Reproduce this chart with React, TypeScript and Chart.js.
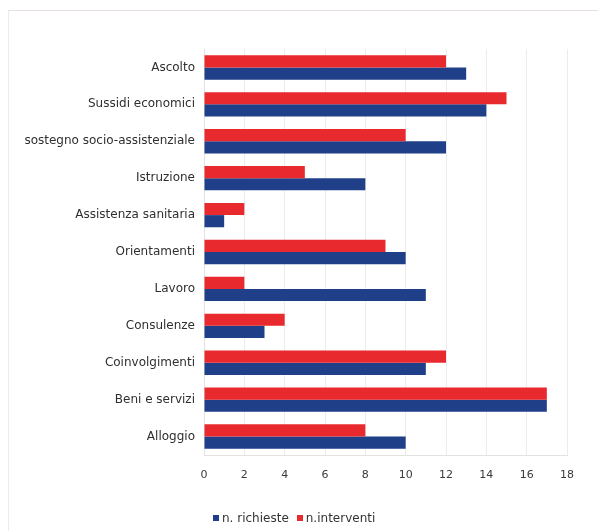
import React, { useEffect, useRef } from "react";
import { Chart, registerables } from "chart.js";

Chart.register(...registerables);

const categories = [
  "Ascolto",
  "Sussidi economici",
  "sostegno socio-assistenziale",
  "Istruzione",
  "Assistenza sanitaria",
  "Orientamenti",
  "Lavoro",
  "Consulenze",
  "Coinvolgimenti",
  "Beni e servizi",
  "Alloggio",
];

const richieste = [13, 14, 12, 8, 1, 10, 11, 3, 11, 17, 10];
const interventi = [12, 15, 10, 5, 2, 9, 2, 4, 12, 17, 8];

const xTicks = [0, 2, 4, 6, 8, 10, 12, 14, 16, 18];

const BLUE = "#1f3f88";
const RED = "#e8292e";
const FONT = "'DejaVu Sans', Verdana, sans-serif";

export default function App() {
  const canvasRef = useRef<HTMLCanvasElement | null>(null);

  useEffect(() => {
    if (!canvasRef.current) return;
    const chart = new Chart(canvasRef.current, {
      type: "bar",
      data: {
        labels: categories,
        datasets: [
          {
            label: "n.interventi",
            data: interventi,
            backgroundColor: RED,
            categoryPercentage: 0.66,
            barPercentage: 1.0,
          },
          {
            label: "n. richieste",
            data: richieste,
            backgroundColor: BLUE,
            categoryPercentage: 0.66,
            barPercentage: 1.0,
          },
        ],
      },
      options: {
        indexAxis: "y",
        responsive: false,
        animation: false,
        layout: { padding: { left: 8, right: 31, top: 49, bottom: 51 } },
        plugins: {
          legend: { display: false },
          tooltip: { enabled: false },
        },
        scales: {
          x: {
            min: 0,
            max: 18,
            afterBuildTicks: (scale: any) => {
              scale.ticks = xTicks.map((v) => ({ value: v }));
            },
            afterFit: (scale: any) => {
              scale.height = 25;
            },
            grid: { color: "#ececec", drawTicks: false },
            border: { display: true, color: "#e2e2e2" },
            ticks: {
              padding: 14,
              color: "#3a3a3a",
              font: { family: FONT, size: 11 },
            },
          },
          y: {
            afterFit: (scale: any) => {
              scale.width = 196;
            },
            grid: { display: false, drawTicks: false },
            border: { display: true, color: "#e2e2e2" },
            ticks: {
              padding: 9,
              color: "#2f2f2f",
              font: { family: FONT, size: 12 },
            },
          },
        },
      },
    });
    return () => chart.destroy();
  }, []);

  const legendItem = (color: string, text: string, ml: number) => (
    <span style={{ display: "inline-flex", alignItems: "center", marginLeft: ml }}>
      <span style={{ width: 6, height: 6, background: color, display: "inline-block", marginRight: 3 }} />
      <span>{text}</span>
    </span>
  );

  return (
    <div
      style={{
        position: "fixed",
        left: 0,
        top: 0,
        width: 598,
        height: 531,
        background: "#fff",
        overflow: "hidden",
      }}
    >
      <div
        style={{
          position: "absolute",
          left: 8,
          top: 10,
          width: 600,
          height: 530,
          borderTop: "1px solid #eadfe0",
          borderLeft: "1px solid #ececec",
        }}
      />
      <canvas ref={canvasRef} width={598} height={531} style={{ position: "absolute", left: 0, top: 0 }} />
      <div
        style={{
          position: "absolute",
          left: 213,
          top: 511,
          fontFamily: FONT,
          fontSize: 12,
          color: "#333",
          whiteSpace: "nowrap",
          display: "flex",
        }}
      >
        {legendItem(BLUE, "n. richieste", 0)}
        {legendItem(RED, "n.interventi", 8)}
      </div>
    </div>
  );
}
